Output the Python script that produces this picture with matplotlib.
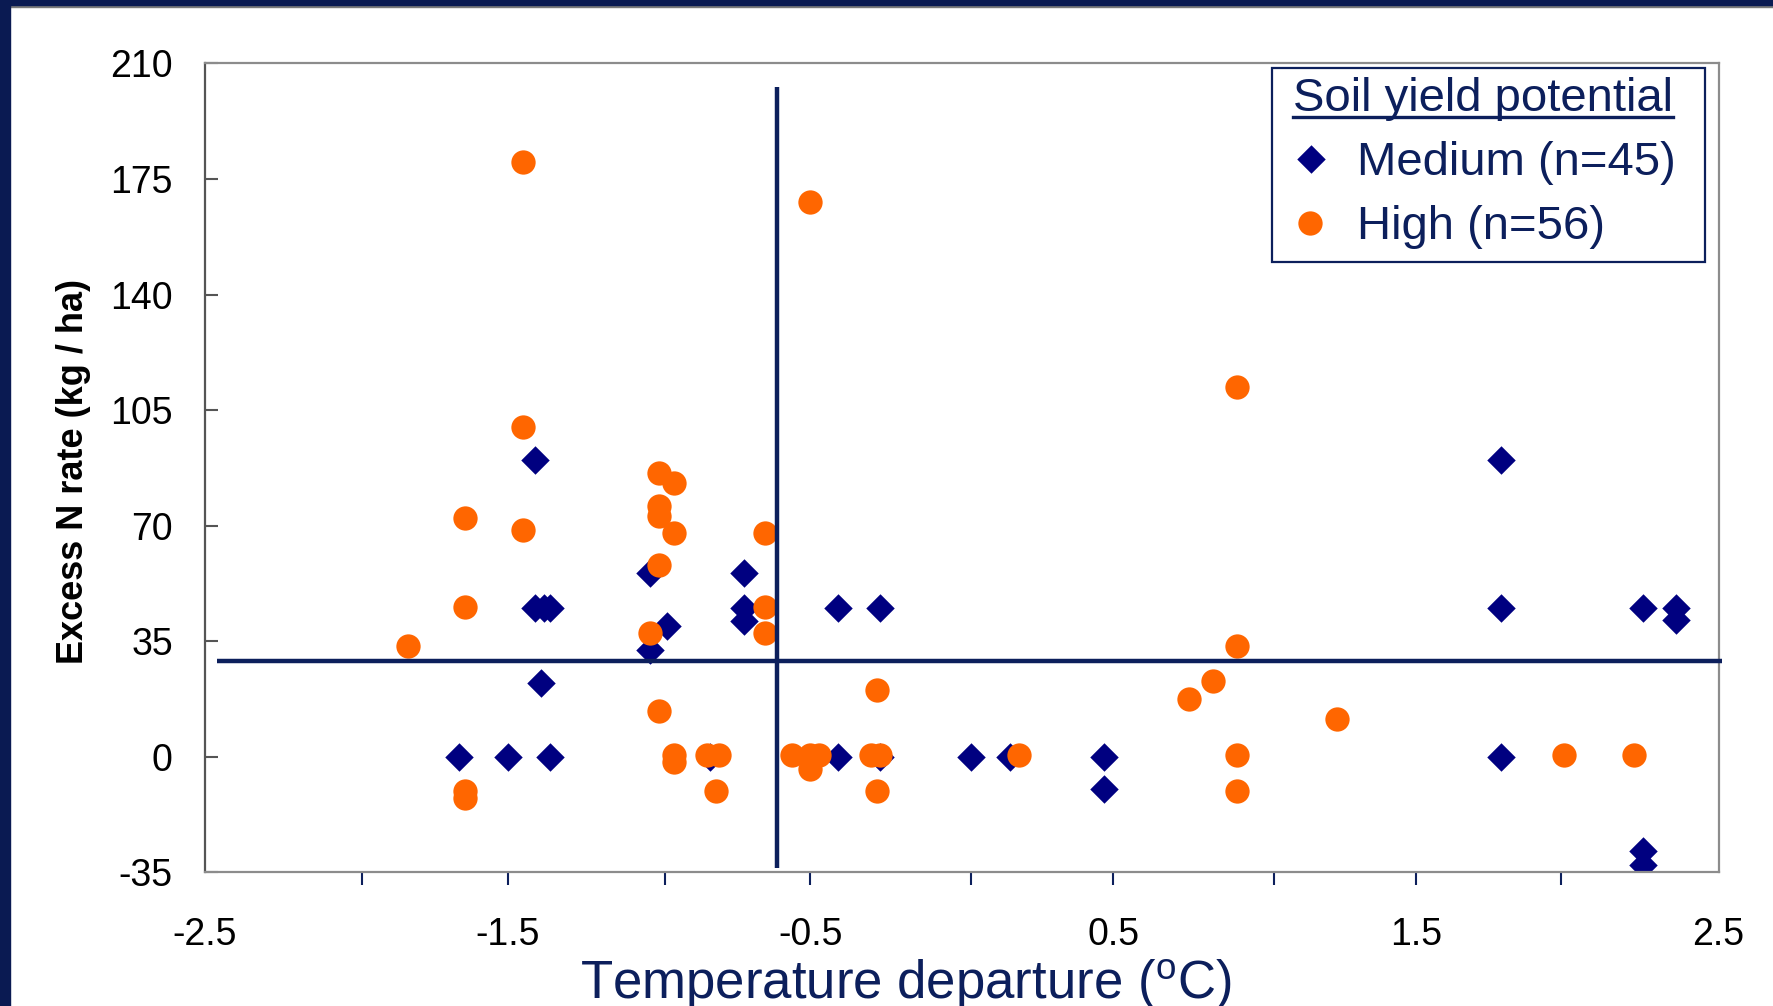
import matplotlib
matplotlib.use("Agg")
import matplotlib.pyplot as plt
from matplotlib.path import Path
from matplotlib.lines import Line2D
from matplotlib.patches import Rectangle

# medium soil yield potential (diamonds), only the visible points
medium_x = [-1.66, -1.50, -1.36, -0.83, -0.41, -0.27, -1.41, -1.38, -1.36, -1.39,
            -1.03, -0.975, -1.03, -0.72, -0.72, -0.72, -0.41, -0.27, -1.41, 1.78,
            2.25, 2.36, 2.36, 1.78, 2.25, 2.25, 0.03, 0.16, 0.47, 0.47, 1.78]
medium_y = [0, 0, 0, 0, 0, 0, 45, 45, 45, 22.4,
            55.6, 39.7, 32.3, 55.6, 45, 41.1, 45, 45, 90, 45,
            45, 45, 41.4, 0, -28.6, -32.7, 0, 0, 0, -9.8, 90]

# high soil yield potential (circles)
high_x = [-1.45, -0.50, 0.91, -1.45, -1.00, -0.95, -1.00, -1.00, -1.64, -1.45,
          -0.95, -0.65, -1.00, -1.64, -0.65, -1.03, -0.65, -1.83, 0.91, 0.83,
          -0.28, 0.75, -1.00, 1.24, -0.95, -0.95, -0.84, -0.80, -0.56, -0.50,
          -0.47, -0.50, -0.30, -0.27, 0.19, 0.91, 1.99, 2.22, -1.64, -1.64,
          -0.81, -0.28, 0.91]
high_y = [180, 168, 112, 100, 86, 83, 76, 73, 72.4, 68.6,
          67.8, 67.8, 58, 45.3, 45.3, 37.4, 37.4, 33.6, 33.6, 23,
          20.3, 17.5, 14, 11.3, 0.5, -1.5, 0.5, 0.5, 0.5, 0.5,
          0.5, -3.8, 0.5, 0.5, 0.5, 0.5, 0.5, 0.5, -10.4, -12.4,
          -10.4, -10.4, -10.3]

# threshold cross-hair
temp_threshold = -0.61
n_threshold = 29
vline_span = (-33.8, 203)
hline_span = (-2.46, 2.51)

legend_title = "Soil yield potential"
medium_label = "Medium (n=45)"
high_label = "High (n=56)"

x_major = [-2.5, -1.5, -0.5, 0.5, 1.5, 2.5]
x_labels = ["-2.5", "-1.5", "-0.5", "0.5", "1.5", "2.5"]
x_minor = [-1.98, -0.98, 0.03, 1.03, 1.98]   # the pasted chart's marks are a bit off
y_ticks = [-35, 0, 35, 70, 105, 140, 175, 210]
y_labels = ["-35", "0", "35", "70", "105", "140", "175", "210"]

NAVY = "#0c1f5c"
FRAME = "#0a1a52"
DIAMOND = "#000080"
ORANGE = "#ff6600"

plt.rcParams["font.family"] = ["Liberation Sans", "DejaVu Sans"]
plt.rcParams["mathtext.fontset"] = "custom"
plt.rcParams["mathtext.rm"] = "Liberation Sans"

W, H = 1774, 1006
fig = plt.figure(figsize=(W / 100, H / 100), dpi=100)
left, right, top, bottom = 204.8, 1718.6, 63.4, 872.3
ax = fig.add_axes([left / W, 1 - bottom / H, (right - left) / W, (bottom - top) / H])


def fx(px):
    return px / W


def fy(py):
    # py measured from the top of the image
    return 1 - py / H


diamond = Path([(0, 1), (1, 0), (0, -1), (-1, 0), (0, 1)], closed=True)
mk_medium = dict(linestyle="none", marker=diamond, markersize=20.5,
                 color=DIAMOND, markeredgewidth=0)
mk_high = dict(linestyle="none", marker="o", markersize=17.5,
               color=ORANGE, markeredgewidth=0)

ax.plot(medium_x, medium_y, zorder=2, **mk_medium)
ax.plot(high_x, high_y, zorder=3, **mk_high)

ax.plot([temp_threshold, temp_threshold], vline_span, color=NAVY, lw=3.2,
        zorder=4, clip_on=False, solid_capstyle="butt")
ax.plot(hline_span, [n_threshold, n_threshold], color=NAVY, lw=3.2,
        zorder=4, clip_on=False, solid_capstyle="butt")

ax.set_xlim(-2.5, 2.5)
ax.set_ylim(-35, 210)
ax.set_xticks(x_major, x_labels)
ax.set_xticks(x_minor, minor=True)
ax.set_yticks(y_ticks, y_labels)
ax.tick_params(axis="x", which="both", direction="out", length=9, width=1.5,
               color=NAVY, pad=23, labelsize=27)
ax.tick_params(axis="y", direction="in", length=9, width=1.5,
               color="#555555", pad=23, labelsize=27)
for t in (ax.xaxis.get_major_ticks()[0], ax.xaxis.get_major_ticks()[-1]):
    t.tick1line.set_visible(False)

for side in ["top", "right", "bottom"]:
    ax.spines[side].set_color("#8c8c8c")
    ax.spines[side].set_linewidth(1.6)
ax.spines["left"].set_color("#555555")
ax.spines["left"].set_linewidth(1.6)

# legend, laid out by hand so the title sits tight to the top like the original
fig.add_artist(Rectangle((fx(1272.5), fy(262)), (1705.5 - 1272.5) / W, (262 - 68.5) / H,
                         transform=fig.transFigure, facecolor="white",
                         edgecolor=NAVY, lw=1.6, zorder=8))
title = fig.text(fx(1293), fy(111), legend_title, ha="left", va="baseline",
                 fontsize=34, color=NAVY, zorder=9)
fig.text(fx(1357), fy(175), medium_label, ha="left", va="baseline",
         fontsize=34, color=NAVY, zorder=9)
fig.text(fx(1357), fy(239), high_label, ha="left", va="baseline",
         fontsize=34, color=NAVY, zorder=9)
fig.add_artist(Line2D([fx(1311)], [fy(159)], transform=fig.transFigure, zorder=9, **mk_medium))
fig.add_artist(Line2D([fx(1310)], [fy(223)], transform=fig.transFigure, zorder=9, **mk_high))

fig.text(906 / W, (H - 999) / H, r"Temperature departure ($\mathregular{^o}$C)",
         ha="center", va="baseline", fontsize=38, color=NAVY)
fig.text(73.5 / W, 1 - 472 / H, "Excess N rate (kg / ha)", rotation=90,
         ha="center", va="center", fontsize=26, fontweight="bold", color="black")

# slide frame: navy band on top and left
fig.add_artist(Rectangle((0, 1 - 5 / H), 1, 5 / H, transform=fig.transFigure,
                         color=FRAME, zorder=10))
fig.add_artist(Rectangle((0, 1 - 6.5 / H), 1, 1.5 / H, transform=fig.transFigure,
                         color="#7a7a7a", zorder=9))
fig.add_artist(Rectangle((0, 0), 10 / W, 1, transform=fig.transFigure,
                         color=FRAME, zorder=10))

# underline the legend title
fig.canvas.draw()
bb = title.get_window_extent(fig.canvas.get_renderer())
fig.add_artist(Line2D([bb.x0 / W, bb.x1 / W], [fy(117), fy(117)], transform=fig.transFigure,
                      color=NAVY, lw=2.4, zorder=11))

fig.savefig("out.png", dpi=100)
